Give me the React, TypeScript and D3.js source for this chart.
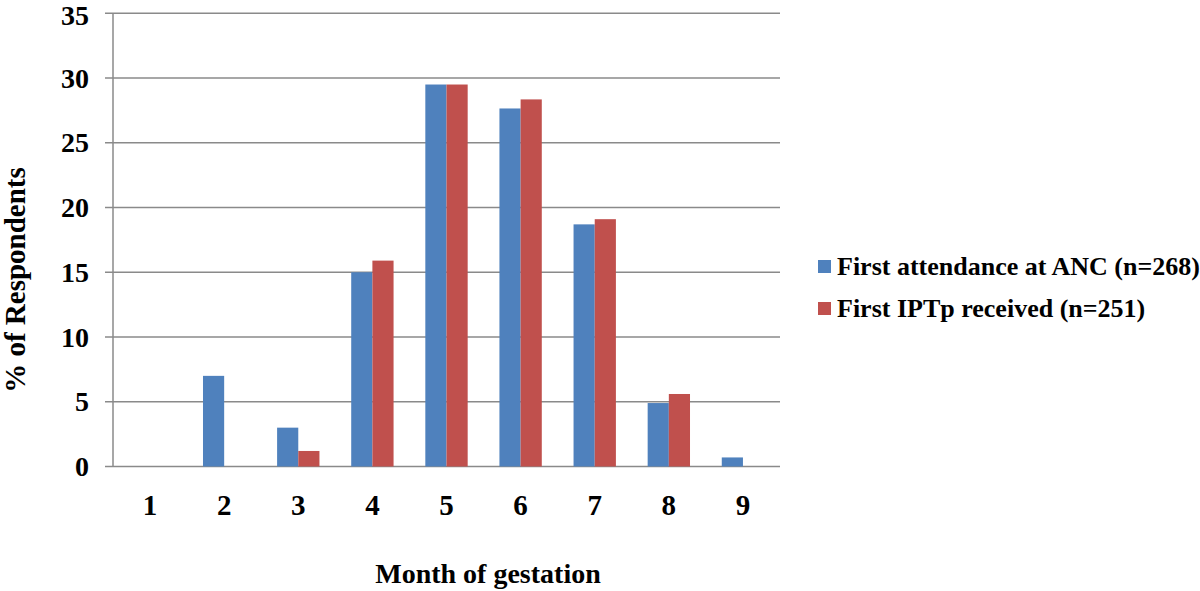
import * as d3 from 'd3';
import React from "react";

const WIDTH = 1200;
const HEIGHT = 591;
const FONT = '"Liberation Serif", "Times New Roman", serif';

const months = ['1', '2', '3', '4', '5', '6', '7', '8', '9'];
const firstAnc = [0, 7.0, 3.0, 15.0, 29.5, 27.65, 18.7, 4.9, 0.7];
const firstIptp = [0, 0, 1.2, 15.9, 29.5, 28.35, 19.1, 5.6, 0];
const yTicks = [0, 5, 10, 15, 20, 25, 30, 35];
const seriesNames = ['First attendance at ANC (n=268)', 'First IPTp received (n=251)'];
const seriesColors = ['#4F81BD', '#C0504D'];

const LEFT = 113;
const RIGHT = 780;
const TOP = 13.3;
const BOTTOM = 466.5;
const TICK_FS = 28;

export default function App() {
    const x = d3.scaleBand().domain(months).range([LEFT, RIGHT]).paddingInner(0).paddingOuter(0);
    const y = d3.scaleLinear().domain([0, 35]).range([BOTTOM, TOP]);
    const bw = x.bandwidth();
    const barW = bw / 3.5;
    const series = [firstAnc, firstIptp];

    return (
        <svg width={WIDTH} height={HEIGHT} style={{position: 'absolute', left: 0, top: 0}}
             fontFamily={FONT} fontWeight="bold">
            <rect width={WIDTH} height={HEIGHT} fill="#fff"/>
            {yTicks.map(t => (
                <g key={t}>
                    <line x1={LEFT - 8} x2={RIGHT} y1={y(t)} y2={y(t)} stroke="#8a8a8a" strokeWidth={1.5}/>
                    {/* keep the top label inside the svg */}
                    <text x={89} y={Math.max(y(t) + TICK_FS * 0.34, TICK_FS * 0.9)} textAnchor="end"
                          fontSize={TICK_FS}>{t}</text>
                </g>
            ))}
            <line x1={LEFT} x2={LEFT} y1={TOP} y2={BOTTOM} stroke="#8a8a8a" strokeWidth={1.5}/>
            {series.map((vals, si) => (
                <g key={si}>
                    {vals.map((v, i) => v > 0 && (
                        <rect key={i}
                              x={(x(months[i]) as number) + bw / 2 - barW + si * barW}
                              y={y(v)} width={barW} height={y(0) - y(v)}
                              fill={seriesColors[si]}/>
                    ))}
                </g>
            ))}
            {months.map(m => (
                <text key={m} x={(x(m) as number) + bw / 2} y={515} textAnchor="middle" fontSize={29}>{m}</text>
            ))}
            <text x={488} y={583} textAnchor="middle" fontSize={28}>Month of gestation</text>
            <text transform="translate(25,280) rotate(-90)" textAnchor="middle" fontSize={29}>% of Respondents</text>
            {seriesNames.map((name, i) => (
                <g key={name} transform={`translate(818,${260 + i * 42})`}>
                    <rect width={13} height={13} fill={seriesColors[i]}/>
                    <text x={19} y={15} fontSize={26}>{name}</text>
                </g>
            ))}
        </svg>
    );
}
